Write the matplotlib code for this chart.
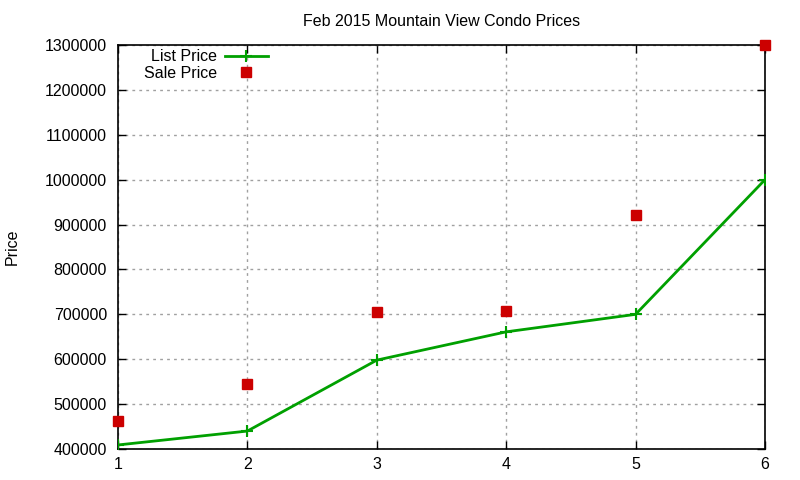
import matplotlib
matplotlib.use("Agg")
import matplotlib.pyplot as plt

plt.rcParams['font.family'] = ['Liberation Sans', 'DejaVu Sans']

# data
list_x = [1, 2, 3, 4, 5, 6]
list_price = [409000, 440000, 598000, 661000, 700000, 1000000]
sale_x = [1, 2, 3, 4, 5, 6]
sale_price = [462000, 545000, 705000, 707000, 921000, 1300000]
yticks = [400000, 500000, 600000, 700000, 800000, 900000, 1000000,
          1100000, 1200000, 1300000]

fs = 11.5

fig = plt.figure(figsize=(8, 4.8), dpi=100)
ax = fig.add_axes([118 / 800, 1 - 449 / 480, (765 - 118) / 800, (449 - 45) / 480])

ax.plot(list_x, list_price, color='#00a000', linewidth=2, marker='+',
        markersize=9, markeredgewidth=1.5, label='List Price', zorder=3)
ax.plot(sale_x, sale_price, linestyle='none', color='#cc0000', marker='s',
        markersize=7, label='Sale Price', zorder=4, clip_on=False)

ax.set_xlim(1, 6)
ax.set_ylim(400000, 1300000)
ax.set_xticks(list_x)
ax.set_yticks(yticks)
ax.set_yticklabels([str(v) for v in yticks])
ax.tick_params(direction='in', top=True, right=True, length=6,
               labelsize=fs, width=1)
ax.tick_params(axis='x', pad=6)
ax.tick_params(axis='y', pad=8)
ax.grid(True, color='#a0a0a0', linestyle=(0, (2, 3)), linewidth=1)
for s in ax.spines.values():
    s.set_linewidth(1.2)

ax.set_title('Feb 2015 Mountain View Condo Prices', fontsize=fs, pad=14)
fig.text(12 / 800, 1 - 247 / 480, 'Price', rotation=90, fontsize=fs,
         ha='center', va='center')

leg = ax.legend(loc='upper left', bbox_to_anchor=(0.030, 1.005), frameon=False,
                fontsize=fs, markerfirst=False, handlelength=2.7,
                borderaxespad=0.0, labelspacing=0.1, handletextpad=0.5)

fig.savefig('out.png', dpi=100)
